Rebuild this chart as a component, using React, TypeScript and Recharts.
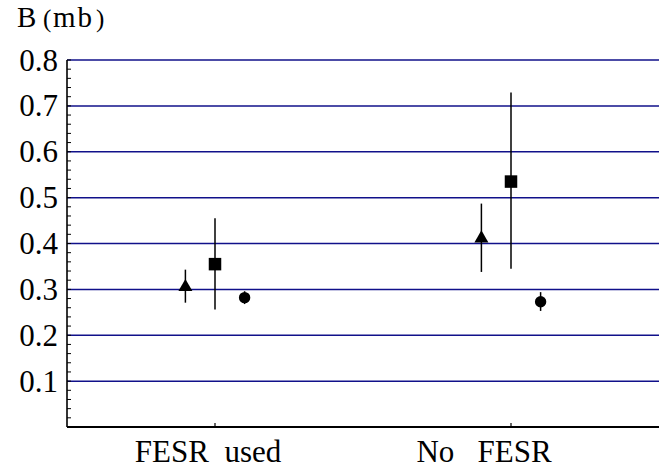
import React from 'react';
import { ScatterChart, Scatter, XAxis, YAxis, ReferenceLine, ErrorBar, Label } from 'recharts';

// ---- data ----
const categories = ['FESR  used', 'No   FESR'];
const categoryX = [1, 2];
const categoryLabelShift = [-7, -27];

const triangleX = [0.9, 1.9];
const triangleY = [0.305, 0.411];
const triangleLow = [0.271, 0.338];
const triangleHigh = [0.343, 0.487];

const squareX = [1, 2];
const squareY = [0.355, 0.535];
const squareLow = [0.256, 0.345];
const squareHigh = [0.455, 0.729];

const circleX = [1.1, 2.1];
const circleY = [0.282, 0.273];
const circleLow = [0.268, 0.253];
const circleHigh = [0.296, 0.294];

const majorYTicks = [0.1, 0.2, 0.3, 0.4, 0.5, 0.6, 0.7, 0.8];
const yDomain = [0, 0.8];
const xDomain = [0.5, 2.5];
const yTitle = { main: 'B', unit: 'mb' };

const minorStep = 0.02;
const allYTicks: number[] = [];
for (let i = 0; i <= Math.round(yDomain[1] / minorStep); i++) {
  allYTicks.push(Math.round(i * minorStep * 1000) / 1000);
}

const build = (xs: number[], ys: number[], lo: number[], hi: number[]) =>
  xs.map((x, i) => ({ x, y: ys[i], err: [ys[i] - lo[i], hi[i] - ys[i]] }));

const triangleData = build(triangleX, triangleY, triangleLow, triangleHigh);
const squareData = build(squareX, squareY, squareLow, squareHigh);
const circleData = build(circleX, circleY, circleLow, circleHigh);

const FONT = "'Liberation Serif', 'Times New Roman', Times, 'DejaVu Serif', serif";
const GRID = '#10108a';

const TriangleShape = (p: any) => {
  const { cx, cy } = p;
  const s = 14;
  const h = (s * Math.sqrt(3)) / 2;
  return (
    <polygon
      points={`${cx},${cy - (2 * h) / 3} ${cx - s / 2},${cy + h / 3} ${cx + s / 2},${cy + h / 3}`}
      fill="#000"
    />
  );
};
const SquareShape = (p: any) => {
  const { cx, cy } = p;
  const s = 12.5;
  return <rect x={cx - s / 2} y={cy - s / 2} width={s} height={s} fill="#000" />;
};
const CircleShape = (p: any) => {
  const { cx, cy } = p;
  return <circle cx={cx} cy={cy} r={5.7} fill="#000" />;
};

const textStyle: React.CSSProperties = { fontFamily: FONT, fontSize: 31, fill: '#000' };

const YTick = (props: any) => {
  const { x, y, payload } = props;
  const v = payload.value as number;
  const isMajor = majorYTicks.some((m) => Math.abs(m - v) < 1e-6);
  if (!isMajor) return <g />;
  return (
    <text x={x} y={y} dy={10.5} textAnchor="end" style={textStyle}>
      {v.toFixed(1)}
    </text>
  );
};

const XTick = (props: any) => {
  const { x, y, payload } = props;
  const i = categoryX.indexOf(payload.value);
  return (
    <text
      x={x + (categoryLabelShift[i] || 0)}
      y={y + 34.5}
      textAnchor="middle"
      style={{ ...textStyle, whiteSpace: 'pre' }}
    >
      {categories[i]}
    </text>
  );
};

const YTitle = () => (
  <text y={27} style={{ fontFamily: FONT, fontSize: 29, fill: '#000' }}>
    <tspan x={17}>{yTitle.main}</tspan>
    <tspan x={43} style={{ fontSize: 25 }}>(</tspan>
    <tspan x={53} style={{ letterSpacing: 2 }}>{yTitle.unit}</tspan>
    <tspan x={96} style={{ fontSize: 25 }}>)</tspan>
  </text>
);

export default function App() {
  return (
    <div style={{ position: 'absolute', left: 0, top: 0, width: 659, height: 470, background: '#fff', fontFamily: FONT }}>
      <ScatterChart
        width={659}
        height={470}
        margin={{ top: 60, right: 0, bottom: 0, left: 0 }}
        style={{ fontFamily: FONT }}
      >
        {majorYTicks.map((t) => (
          <ReferenceLine key={t} y={t} stroke={GRID} strokeWidth={1.5} ifOverflow="visible" />
        ))}
        <XAxis
          type="number"
          dataKey="x"
          domain={xDomain}
          ticks={categoryX}
          interval={0}
          height={43}
          tickSize={-4}
          tickMargin={4}
          tick={<XTick />}
          axisLine={{ stroke: '#000', strokeWidth: 2 }}
          tickLine={{ stroke: '#000', strokeWidth: 1.2 }}
          allowDataOverflow
        />
        <YAxis
          type="number"
          dataKey="y"
          domain={yDomain}
          ticks={allYTicks}
          interval={0}
          width={67}
          tickSize={-4}
          tickMargin={13}
          tick={<YTick />}
          axisLine={{ stroke: '#000', strokeWidth: 1.6 }}
          tickLine={{ stroke: '#000', strokeWidth: 1 }}
          allowDataOverflow
        >
          <Label content={() => <YTitle />} />
        </YAxis>
        <Scatter data={triangleData} shape={TriangleShape} isAnimationActive={false}>
          <ErrorBar dataKey="err" direction="y" width={0} stroke="#000" strokeWidth={1.5} isAnimationActive={false} />
        </Scatter>
        <Scatter data={squareData} shape={SquareShape} isAnimationActive={false}>
          <ErrorBar dataKey="err" direction="y" width={0} stroke="#000" strokeWidth={1.5} isAnimationActive={false} />
        </Scatter>
        <Scatter data={circleData} shape={CircleShape} isAnimationActive={false}>
          <ErrorBar dataKey="err" direction="y" width={0} stroke="#000" strokeWidth={1.5} isAnimationActive={false} />
        </Scatter>
      </ScatterChart>
    </div>
  );
}
